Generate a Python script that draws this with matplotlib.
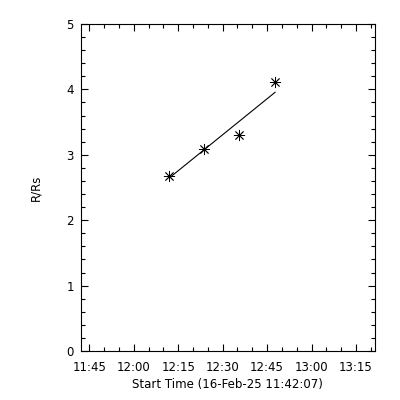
import matplotlib
matplotlib.use("Agg")
import matplotlib.pyplot as plt
from matplotlib.ticker import MultipleLocator, FuncFormatter

# Data
point_times = ["12:11:58", "12:23:52", "12:35:40", "12:47:42"]
point_values = [2.676, 3.084, 3.307, 4.113]
fit_times = ["12:11:58", "12:47:42"]
fit_values = [2.645, 3.956]
x_start = "11:42:07"
x_end = "13:21:24"
y_ticks = [0, 1, 2, 3, 4, 5]


def to_min(s):
    h, m, sec = [int(v) for v in s.split(":")]
    return h * 60 + m + sec / 60.0


px = [to_min(t) for t in point_times]
fx = [to_min(t) for t in fit_times]

fig = plt.figure(figsize=(4, 4), dpi=100)
ax = fig.add_axes([0.2018, 0.1225, 0.7357, 0.8175])

ax.plot(fx, fit_values, color="black", linewidth=0.8)
ax.plot(px, point_values, linestyle="none", marker=(8, 2, 0), markersize=8,
        markeredgewidth=0.6, color="black")

ax.set_xlim(to_min(x_start), to_min(x_end))
ax.set_ylim(0, 5)
ax.set_yticks(y_ticks)
ax.yaxis.set_minor_locator(MultipleLocator(0.2))
ax.xaxis.set_major_locator(MultipleLocator(15))
ax.xaxis.set_minor_locator(MultipleLocator(5))
ax.xaxis.set_major_formatter(FuncFormatter(lambda v, p: "%02d:%02d" % (int(round(v)) // 60, int(round(v)) % 60)))

for sp in ax.spines.values():
    sp.set_linewidth(0.8)
ax.tick_params(which="both", direction="in", top=True, right=True, width=0.8, labelsize=8.5)
ax.tick_params(axis="x", pad=7)
ax.tick_params(axis="y", pad=5)
ax.tick_params(which="major", length=5)
ax.tick_params(which="minor", length=2.6)

ax.set_xlabel("Start Time (16-Feb-25 11:42:07)", fontsize=8.5, labelpad=3)
ax.set_ylabel("R/Rs", fontsize=8.5, labelpad=17)

fig.savefig("out.png", dpi=100)
